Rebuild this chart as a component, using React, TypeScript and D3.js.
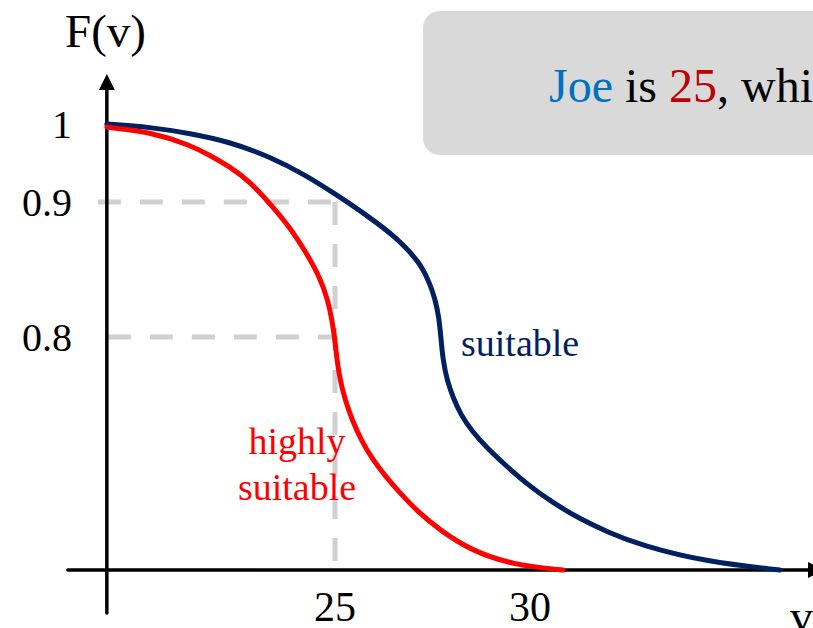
import React from "react";
import { select, scaleLinear, line, curveBasis } from "d3";

// v values (age) and F(v)
const highlyV = [19.15, 20.26, 21.28, 21.79, 22.31, 22.82, 23.33, 23.85, 24.23, 24.62, 24.82, 24.92, 25.0, 25.05, 25.13, 25.26, 25.44, 25.67, 25.97, 26.31, 26.67, 27.13, 27.69, 28.46, 29.56, 30.85];
const highlyF = [0.996, 0.99, 0.973, 0.96, 0.945, 0.926, 0.899, 0.881, 0.864, 0.844, 0.827, 0.813, 0.79, 0.721, 0.652, 0.584, 0.515, 0.446, 0.378, 0.319, 0.264, 0.199, 0.137, 0.069, 0.017, 0.0];

const suitableV = [19.15, 20.26, 21.28, 22.31, 23.33, 24.23, 25.05, 25.97, 26.59, 26.92, 27.21, 27.41, 27.56, 27.67, 27.72, 27.77, 27.87, 28.03, 28.23, 28.51, 28.9, 29.36, 29.92, 30.56, 31.28, 32.05, 32.82, 34.54, 36.41];
const suitableF = [1.0, 0.996, 0.988, 0.977, 0.958, 0.935, 0.909, 0.887, 0.873, 0.863, 0.853, 0.841, 0.829, 0.814, 0.79, 0.721, 0.652, 0.591, 0.532, 0.477, 0.419, 0.361, 0.295, 0.233, 0.175, 0.127, 0.086, 0.027, 0.0];

const xTicks = [25, 30];
const yTicks = [1, 0.9, 0.8];
const yTickLabels = ["1", "0.9", "0.8"];
const joeAge = 25;

const WIDTH = 813;
const HEIGHT = 628;
const FONT = "'Liberation Serif', 'DejaVu Serif', serif";

export default function App() {
  const svgRef = React.useRef<SVGSVGElement | null>(null);

  React.useEffect(() => {
    document.body.style.margin = "0";
    const svg = select(svgRef.current);

    const x = scaleLinear().domain([25, 30]).range([335, 530]);
    // the sketch is not to scale on F, so a piecewise scale
    const y = scaleLinear().domain([0, 0.8, 0.9, 1]).range([570, 337, 202, 124]);
    const vMin = 19.15;
    const x0 = x(vMin);
    const y0 = y(0);

    // callout box
    svg
      .append("rect")
      .attr("x", 423)
      .attr("y", 11)
      .attr("width", 520)
      .attr("height", 144)
      .attr("rx", 17)
      .attr("fill", "#d9d9d9");

    const callout = svg
      .append("text")
      .attr("x", 549)
      .attr("y", 102)
      .attr("font-family", FONT)
      .attr("font-size", 48);
    callout.append("tspan").attr("fill", "#0070c0").text("Joe");
    callout.append("tspan").attr("fill", "#000").text(" is ");
    callout.append("tspan").attr("fill", "#c00000").text(String(joeAge));
    callout.append("tspan").attr("fill", "#000").text(", which is");

    // dashed guides
    const guides = svg
      .append("g")
      .attr("stroke", "#d0d0d0")
      .attr("stroke-width", 5)
      .attr("stroke-dasharray", "23 19")
      .attr("fill", "none");
    guides
      .append("line")
      .attr("x1", x0 - 9)
      .attr("x2", x(joeAge))
      .attr("y1", y(0.9))
      .attr("y2", y(0.9));
    guides
      .append("line")
      .attr("x1", x0 + 1)
      .attr("x2", x(joeAge))
      .attr("y1", y(0.8))
      .attr("y2", y(0.8));
    guides
      .append("line")
      .attr("x1", x(joeAge))
      .attr("x2", x(joeAge))
      .attr("y1", y(0.9))
      .attr("y2", y(0.03));

    // axes
    const axes = svg.append("g").attr("stroke", "#000").attr("stroke-width", 3.5);
    axes
      .append("line")
      .attr("x1", x0 - 39)
      .attr("x2", 812)
      .attr("y1", y0)
      .attr("y2", y0)
      .attr("stroke-linecap", "round");
    axes
      .append("line")
      .attr("x1", x0)
      .attr("x2", x0)
      .attr("y1", 613)
      .attr("y2", 86)
      .attr("stroke-linecap", "round");
    svg
      .append("path")
      .attr("d", `M${x0},74 L${x0 - 8},90 L${x0 + 8},90 Z`)
      .attr("fill", "#000");
    svg
      .append("path")
      .attr("d", `M824,${y0} L808,${y0 - 8} L808,${y0 + 8} Z`)
      .attr("fill", "#000");

    // curves (basis spline smooths out reading noise)
    const path = line<[number, number]>()
      .x((d) => x(d[0]))
      .y((d) => y(d[1]))
      .curve(curveBasis);

    svg
      .append("path")
      .attr("d", path(suitableV.map((v, i) => [v, suitableF[i]])))
      .attr("fill", "none")
      .attr("stroke", "#002060")
      .attr("stroke-width", 5)
      .attr("stroke-linecap", "round");

    svg
      .append("path")
      .attr("d", path(highlyV.map((v, i) => [v, highlyF[i]])))
      .attr("fill", "none")
      .attr("stroke", "#ff0000")
      .attr("stroke-width", 5)
      .attr("stroke-linecap", "round");

    // tick labels
    svg
      .append("g")
      .selectAll("text")
      .data(yTicks)
      .join("text")
      .attr("x", 72)
      .attr("y", (d) => y(d) + 14)
      .attr("text-anchor", "end")
      .attr("font-family", FONT)
      .attr("font-size", 40)
      .attr("fill", "#000")
      .text((d, i) => yTickLabels[i]);

    svg
      .append("g")
      .selectAll("text")
      .data(xTicks)
      .join("text")
      .attr("x", (d) => x(d))
      .attr("y", 621)
      .attr("text-anchor", "middle")
      .attr("font-family", FONT)
      .attr("font-size", 42)
      .attr("fill", "#000")
      .text((d) => String(d));

    // axis titles
    svg
      .append("text")
      .attr("x", 65)
      .attr("y", 47)
      .attr("font-family", FONT)
      .attr("font-size", 47)
      .text("F(v)");
    svg
      .append("text")
      .attr("x", 790)
      .attr("y", 632)
      .attr("font-family", FONT)
      .attr("font-size", 46)
      .text("v");

    // curve labels
    svg
      .append("text")
      .attr("x", 461)
      .attr("y", 356)
      .attr("font-family", FONT)
      .attr("font-size", 38)
      .attr("fill", "#002060")
      .text("suitable");
    const hl = svg
      .append("text")
      .attr("text-anchor", "middle")
      .attr("font-family", FONT)
      .attr("font-size", 38)
      .attr("fill", "#ff0000");
    hl.append("tspan").attr("x", 297).attr("y", 454).text("highly");
    hl.append("tspan").attr("x", 297).attr("y", 500).text("suitable");

    return () => {
      svg.selectAll("*").remove();
    };
  }, []);

  return (
    <svg
      ref={svgRef}
      width={WIDTH}
      height={HEIGHT}
      style={{ display: "block", background: "#fff" }}
    />
  );
}
